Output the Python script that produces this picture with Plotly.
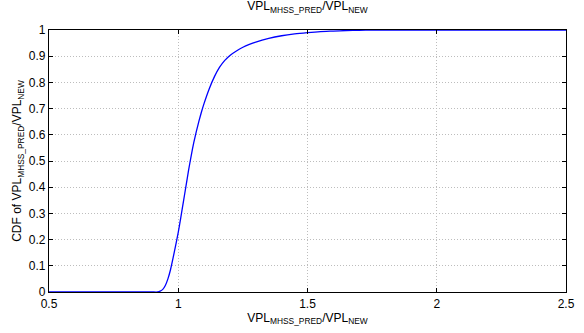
import plotly.graph_objects as go

# Empirical CDF of the VPL ratio (MHSS predicted / new)
ratio = [0.5, 0.80, 0.90, 0.92, 0.93, 0.94, 0.95, 0.96, 0.97, 0.98, 0.99,
         1.00, 1.01, 1.02, 1.03, 1.04, 1.05, 1.06, 1.07, 1.08, 1.09,
         1.10, 1.12, 1.14, 1.16, 1.18, 1.20, 1.225, 1.25, 1.275, 1.30,
         1.35, 1.40, 1.45, 1.50, 1.55, 1.60, 1.65, 1.70, 1.75, 1.80,
         2.0, 2.5]
cdf = [0.0, 0.0, 0.0, 0.0, 0.003, 0.010, 0.025, 0.050, 0.085, 0.130, 0.178,
       0.228, 0.285, 0.345, 0.405, 0.465, 0.520, 0.570, 0.613, 0.652, 0.688,
       0.720, 0.776, 0.822, 0.858, 0.884, 0.903, 0.920, 0.934, 0.945, 0.954,
       0.968, 0.978, 0.985, 0.990, 0.994, 0.996, 0.998, 0.999, 0.9995, 1.0,
       1.0, 1.0]

x_ticks = [0.5, 1, 1.5, 2, 2.5]
x_ticklabels = ["0.5", "1", "1.5", "2", "2.5"]
y_ticks = [0, 0.1, 0.2, 0.3, 0.4, 0.5, 0.6, 0.7, 0.8, 0.9, 1]
y_ticklabels = ["0", "0.1", "0.2", "0.3", "0.4", "0.5", "0.6", "0.7", "0.8", "0.9", "1"]

font = dict(family="Liberation Sans, Arial, Helvetica, sans-serif", size=12, color="black")

fig = go.Figure()
fig.add_trace(go.Scatter(
    x=ratio, y=cdf, mode="lines",
    line=dict(color="#0000ff", width=1.3, shape="spline", smoothing=0.5),
    showlegend=False,
))

axis_common = dict(
    showline=True, linecolor="black", linewidth=1.3, mirror="ticks",
    ticks="inside", ticklen=4, tickcolor="black",
    showgrid=True, gridcolor="#bdbdbd", griddash="1px,2px", gridwidth=1,
    zeroline=False, tickfont=font,
)

fig.update_layout(
    width=584, height=333,
    margin=dict(l=49, r=9, t=30, b=41),
    paper_bgcolor="white", plot_bgcolor="white",
    font=font,
    title=dict(text="VPL<sub>MHSS_PRED</sub>/VPL<sub>NEW</sub>",
               x=0.5, xref="paper", xanchor="center",
               y=1, yref="container", yanchor="top", pad=dict(t=2),
               font=font),
    xaxis=dict(range=[0.5, 2.5], tickvals=x_ticks, ticktext=x_ticklabels,
               title=dict(text="VPL<sub>MHSS_PRED</sub>/VPL<sub>NEW</sub>",
                          font=font, standoff=1),
               **axis_common),
    yaxis=dict(range=[0, 1], tickvals=y_ticks, ticktext=y_ticklabels,
               title=dict(text="CDF of VPL<sub>MHSS_PRED</sub>/VPL<sub>NEW</sub>",
                          font=font, standoff=4),
               **axis_common),
)

fig.write_html("out.html")
